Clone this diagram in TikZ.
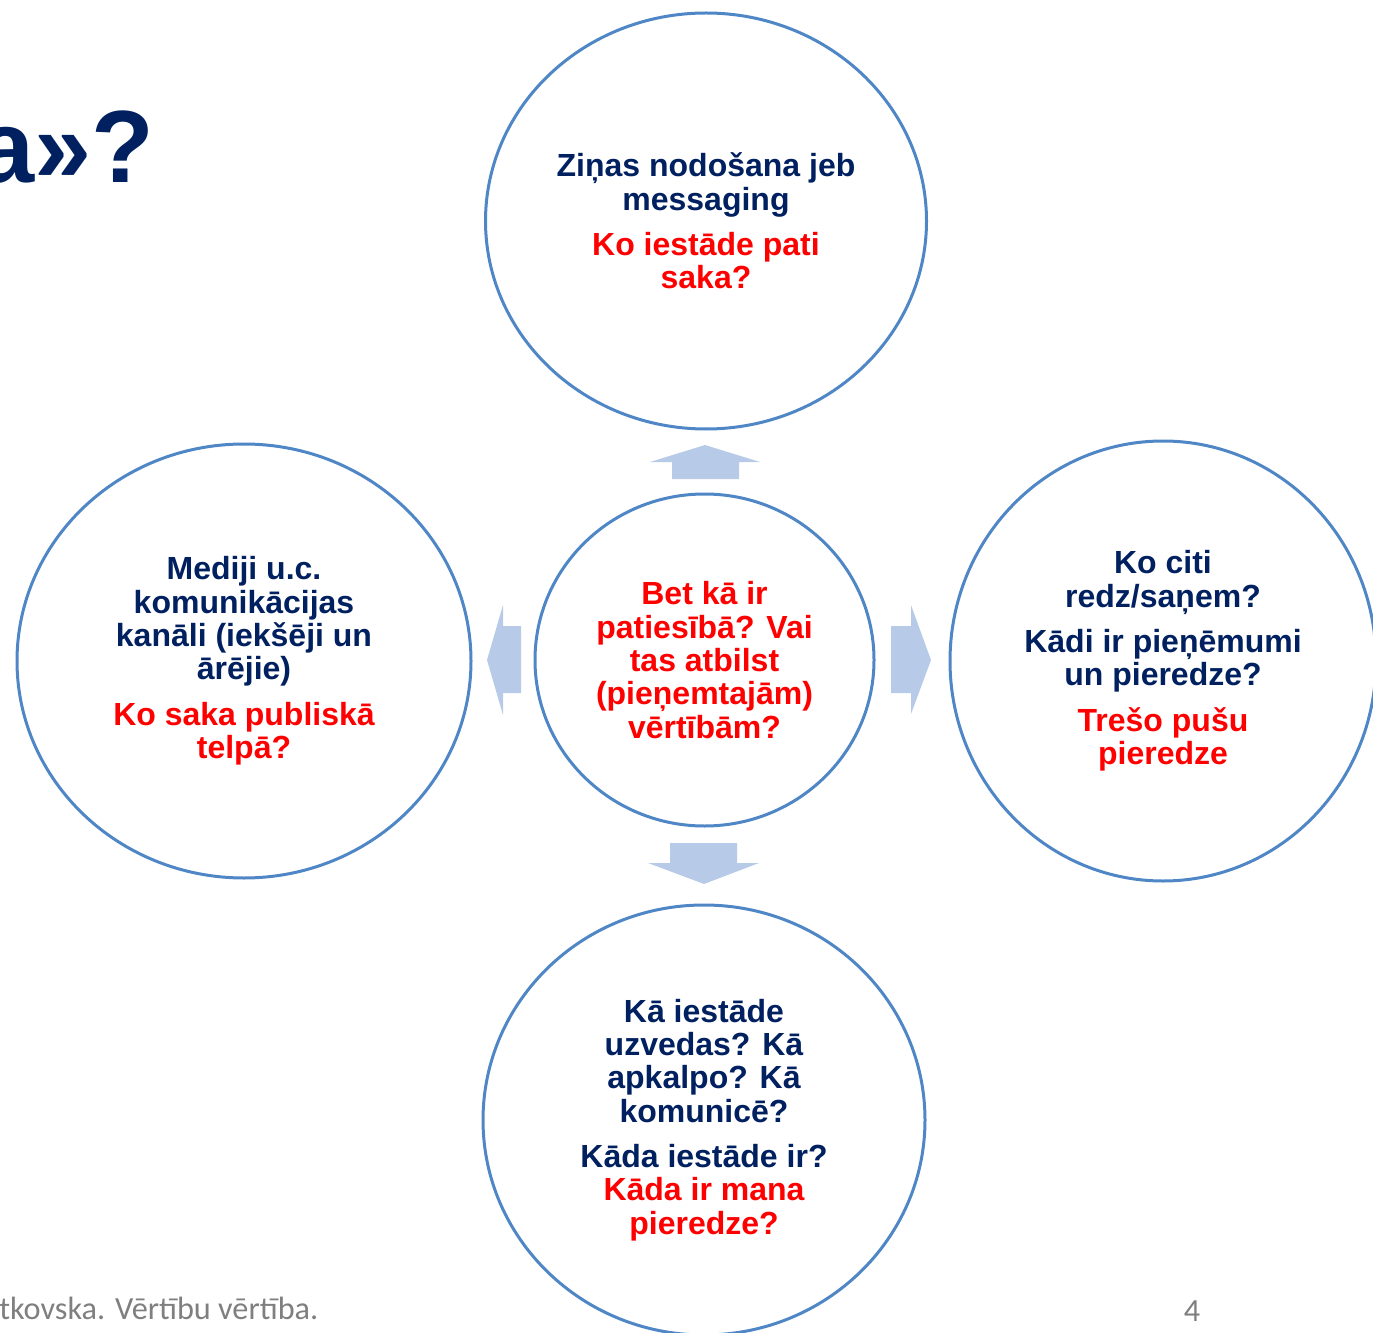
\documentclass[tikz,border=0pt]{standalone}
\usepackage{fontspec}
\setmainfont{Liberation Sans}
\newfontfamily\footfont{Carlito}
\usetikzlibrary{shapes.geometric}
\definecolor{navy}{HTML}{002060}
\definecolor{circ}{HTML}{4F86C6}
\definecolor{arr}{HTML}{B7CBE8}
\definecolor{footgray}{HTML}{7F7F7F}
\newcommand\redtxt[1]{\textcolor{red}{#1}}
\begin{document}
\begin{tikzpicture}[x=0.75pt,y=-0.75pt,
  bubble/.style={draw=circ, line width=2.25pt, ellipse, inner sep=0pt, align=center,
    font=\fontsize{24}{25}\selectfont\bfseries, text=navy},
  blockarrow/.style={fill=arr, draw=none}]
\useasboundingbox (0,0) rectangle (1373,1333);
\clip (0,0) rectangle (1373,1333);

% title fragment
\node[anchor=base east, inner sep=0pt, text=navy, font=\fontsize{77}{80}\selectfont\bfseries] (title) at (155,183) {a»?};

% bubbles
\node[bubble, minimum width=330.75pt, minimum height=312pt] (top) at (706,221)
  {Ziņas nodošana jeb\\messaging\\[9pt]\redtxt{Ko iestāde pati}\\\redtxt{saka?}};
\node[bubble, minimum width=340.5pt, minimum height=325.5pt] (left) at (244,661)
  {Mediji u.c.\\komunikācijas\\kanāli (iekšēji un\\ārējie)\\[9pt]\redtxt{Ko saka publiskā}\\\redtxt{telpā?}};
\node[bubble, minimum width=254.25pt, minimum height=249pt] (center) at (704.5,660)
  {\redtxt{Bet kā ir}\\\redtxt{patiesībā? Vai}\\\redtxt{tas atbilst}\\\redtxt{(pieņemtajām)}\\\redtxt{vērtībām?}};
\node[bubble, minimum width=319.5pt, minimum height=330pt] (right) at (1163,661)
  {Ko citi\\redz/saņem?\\[9pt]Kādi ir pieņēmumi\\un pieredze?\\[9pt]\redtxt{Trešo pušu}\\\redtxt{pieredze}};
\node[bubble, minimum width=331.5pt, minimum height=322.5pt] (bottom) at (704,1120)
  {Kā iestāde\\uzvedas? Kā\\apkalpo? Kā\\komunicē?\\[9pt]Kāda iestāde ir?\\\redtxt{Kāda ir mana}\\\redtxt{pieredze?}};

% block arrows
\fill[blockarrow] (705,445) -- (760,462) -- (739,462) -- (739,479) -- (672,479) -- (672,462) -- (650,462) -- cycle;
\fill[blockarrow] (670,843) -- (737,843) -- (737,863) -- (759,863) -- (704,884) -- (648,863) -- (670,863) -- cycle;
\fill[blockarrow] (487,660) -- (503,605) -- (503,626) -- (521,626) -- (521,693) -- (503,693) -- (503,715) -- cycle;
\fill[blockarrow] (891,626) -- (911,626) -- (911,605) -- (931,660) -- (911,714) -- (911,693) -- (891,693) -- cycle;

% footer
\node[anchor=base west, inner sep=0pt, text=footgray, font=\footfont\fontsize{24.2}{28}\selectfont] (foot) at (-1,1319) {tkovska. Vērtību vērtība.};
\node[anchor=base, inner sep=0pt, text=footgray, font=\footfont\fontsize{24.2}{28}\selectfont] (page) at (1192,1321) {4};
\end{tikzpicture}
\end{document}
